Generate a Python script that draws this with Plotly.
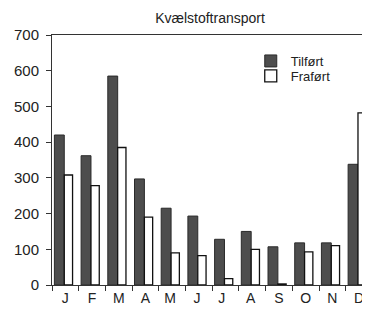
import plotly.graph_objects as go

months = ["J", "F", "M", "A", "M ", "J ", "J  ", "A ", "S", "O", "N", "D"]
tilfort = [420, 362, 585, 297, 215, 193, 128, 150, 107, 118, 118, 338]
frafort = [308, 278, 385, 190, 90, 82, 18, 100, 3, 93, 110, 482]
yticks = [0, 100, 200, 300, 400, 500, 600, 700]

# the page body has an 8px margin, so the figure is drawn from (8, 8)
W, H = 362, 303

fig = go.Figure()
fig.add_trace(go.Bar(x=months, y=tilfort, name="Tilført", width=0.37, offset=-0.41,
                     legend="legend",
                     marker=dict(color="#4d4d4d", line=dict(color="#2a2a2a", width=1))))
fig.add_trace(go.Bar(x=months, y=frafort, name="Frafført".replace("ff", "f"), width=0.31, offset=-0.04,
                     legend="legend2",
                     marker=dict(color="white", line=dict(color="#111", width=1.3))))

leg_common = dict(xanchor="left", yanchor="middle", bgcolor="rgba(0,0,0,0)",
                  font=dict(size=13, color="#222"), itemwidth=30)

fig.update_layout(
    width=W, height=H,
    margin=dict(l=44, r=0, t=27, b=26),
    paper_bgcolor="white", plot_bgcolor="white",
    font=dict(family="Liberation Sans, Arial", color="#222", size=14),
    barmode="overlay",
    title=dict(text="Kvælstoftransport", x=202 / W, xanchor="center", y=1 - 10 / H, yanchor="middle",
               font=dict(size=14, color="#222")),
    showlegend=True,
    legend=dict(x=0.625, y=1 - 26 / 250, **leg_common),
    legend2=dict(x=0.625, y=1 - 41 / 250, **leg_common),
    xaxis=dict(type="category", range=[-0.5, 11.41], showline=True, linecolor="#333", linewidth=1,
               mirror=True, ticks="outside", tickson="boundaries", ticklen=5, tickcolor="#333",
               showgrid=False, automargin=False, tickfont=dict(size=14, color="#222")),
    yaxis=dict(range=[0, 700], tickvals=yticks, showline=True, linecolor="#333", linewidth=1,
               ticks="outside", ticklen=5, tickcolor="#333", showgrid=False, zeroline=False,
               automargin=False, ticklabelstandoff=4, tickfont=dict(size=15, color="#222")),
)
fig.write_html("out.html")
